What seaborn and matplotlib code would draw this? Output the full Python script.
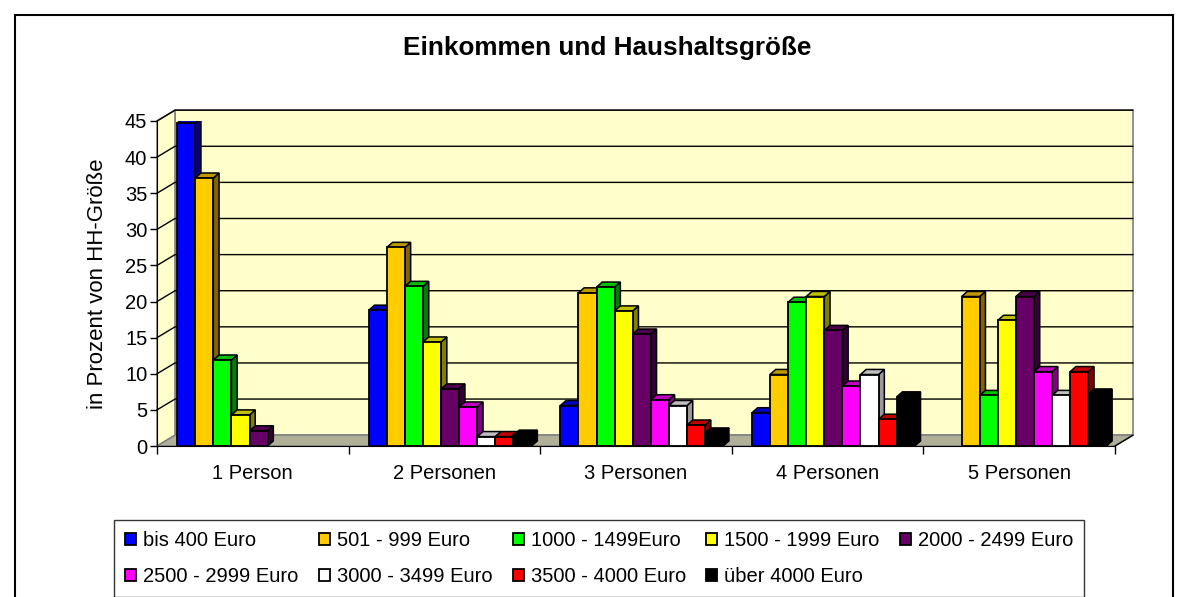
import pandas as pd
import seaborn as sns
import matplotlib.pyplot as plt
from matplotlib.patches import Polygon, Rectangle
from matplotlib.colors import to_rgb

# data
categories = ['1 Person', '2 Personen', '3 Personen', '4 Personen', '5 Personen']
incomes = ['bis 400 Euro', '501 - 999 Euro', '1000 - 1499Euro', '1500 - 1999 Euro',
           '2000 - 2499 Euro', '2500 - 2999 Euro', '3000 - 3499 Euro',
           '3500 - 4000 Euro', 'über 4000 Euro']
bis400 = [44.7, 18.8, 5.6, 4.6, 0.0]
e501_999 = [37.1, 27.5, 21.2, 9.9, 20.7]
e1000_1499 = [11.9, 22.1, 22.0, 19.9, 7.0]
e1500_1999 = [4.3, 14.4, 18.7, 20.7, 17.4]
e2000_2499 = [2.1, 7.9, 15.5, 16.0, 20.7]
e2500_2999 = [0.0, 5.4, 6.4, 8.3, 10.3]
e3000_3499 = [0.0, 1.3, 5.6, 9.9, 7.0]
e3500_4000 = [0.0, 1.3, 2.9, 3.7, 10.3]
ueber4000 = [0.0, 1.5, 1.8, 6.8, 7.2]
colors = ['#0000FF', '#FFCC00', '#00FF00', '#FFFF00', '#660066',
          '#FF00FF', '#FFFFFF', '#FF0000', '#000000']

series = [bis400, e501_999, e1000_1499, e1500_1999, e2000_2499,
          e2500_2999, e3000_3499, e3500_4000, ueber4000]
rows = []
for inc, vals in zip(incomes, series):
    for cat, v in zip(categories, vals):
        rows.append({'HH': cat, 'Einkommen': inc, 'Prozent': v})
df = pd.DataFrame(rows)

sns.set_style('white')
plt.rcParams['font.family'] = ['Liberation Sans', 'DejaVu Sans']
plt.rcParams['text.color'] = 'black'
plt.rcParams['axes.labelcolor'] = 'black'
plt.rcParams['xtick.color'] = 'black'
plt.rcParams['ytick.color'] = 'black'

fig = plt.figure(figsize=(11.88, 5.97), dpi=100)
ax = fig.add_axes([157 / 1188, 151 / 597, 958 / 1188, 325 / 597])
ax.set_facecolor('none')

sns.barplot(data=df, x='HH', y='Prozent', hue='Einkommen', hue_order=incomes,
            palette=colors, saturation=1, width=0.85, edgecolor='black',
            linewidth=1.3, ax=ax, zorder=3)

handles, labels = ax.get_legend_handles_labels()
ax.get_legend().remove()

ax.set_xlim(-0.5, 4.5)
ax.set_ylim(0, 45)

# wall depth and bar depth (3D look)
DX, DY = 0.094, 1.5
bx, by = 0.03, 0.7

# back wall, side wall, floor
ax.add_patch(Polygon([(-0.5 + DX, DY), (4.5 + DX, DY), (4.5 + DX, 45 + DY), (-0.5 + DX, 45 + DY)],
                     closed=True, facecolor='#FFFFCC', edgecolor='#808080', lw=1.2,
                     zorder=0, clip_on=False))
ax.add_patch(Polygon([(-0.5, 0), (-0.5 + DX, DY), (-0.5 + DX, 45 + DY), (-0.5, 45)],
                     closed=True, facecolor='#FFFFCC', edgecolor='#808080', lw=1.2,
                     zorder=0, clip_on=False))
ax.add_patch(Polygon([(-0.5, 0), (4.5, 0), (4.5 + DX, DY), (-0.5 + DX, DY)],
                     closed=True, facecolor='#B0B098', edgecolor='#808080', lw=1,
                     zorder=1, clip_on=False))
for t in range(5, 50, 5):
    ax.plot([-0.5, -0.5 + DX, 4.5 + DX], [t, t + DY, t + DY], color='black', lw=1,
            zorder=1, clip_on=False)

# bars: shift a little, add side and top faces
for cont in ax.containers:
    for bar in cont:
        bar.set_x(bar.get_x() + 0.03)
        h = bar.get_height()
        if h <= 0:
            bar.set_visible(False)
            continue
        x0, w = bar.get_x(), bar.get_width()
        c = to_rgb(bar.get_facecolor())
        side = tuple(v * 0.5 for v in c) if c != (1.0, 1.0, 1.0) else (0.6, 0.6, 0.6)
        top = tuple(v * 0.75 for v in c) if c != (1.0, 1.0, 1.0) else (0.75, 0.75, 0.75)
        ax.add_patch(Polygon([(x0 + w, 0), (x0 + w + bx, by), (x0 + w + bx, h + by), (x0 + w, h)],
                             closed=True, facecolor=side, edgecolor='black', lw=1.1, zorder=2))
        ax.add_patch(Polygon([(x0, h), (x0 + bx, h + by), (x0 + w + bx, h + by), (x0 + w, h)],
                             closed=True, facecolor=top, edgecolor='black', lw=1.1, zorder=2))

for s in ['top', 'right']:
    ax.spines[s].set_visible(False)
ax.spines['left'].set_color('black')
ax.spines['bottom'].set_color('black')
ax.spines['left'].set_zorder(5)
ax.spines['bottom'].set_zorder(5)
ax.plot([4.5, 4.5 + DX], [0, DY], color='black', lw=1, clip_on=False, zorder=5)

ax.set_yticks(range(0, 50, 5))
ax.tick_params(axis='y', direction='out', length=5, width=1, color='black',
               labelsize=14.5, left=True, pad=2)
ax.set_xticks([x - 0.5 for x in range(6)], minor=True)
ax.set_xticks(range(5))
ax.set_xticklabels(categories)
ax.tick_params(axis='x', which='major', length=0, labelsize=14.5, pad=13)
ax.tick_params(axis='x', which='minor', direction='out', length=6, width=1,
               color='black', bottom=True)
ax.set_xlabel('')
ax.set_ylabel('in Prozent von HH-Größe', fontsize=16, labelpad=12)

fig.text(607 / 1188, 1 - 48 / 597, 'Einkommen und Haushaltsgröße', ha='center', va='center',
         fontsize=18.8, fontweight='bold')

# legend filled row by row (matplotlib fills columns first)
order = [0, 5, 1, 6, 2, 7, 3, 8, 4]
leg = fig.legend([handles[i] for i in order], [labels[i] for i in order], loc='upper left',
                 bbox_to_anchor=(114 / 1188, 1 - 520 / 597), ncol=5, fontsize=14.5,
                 frameon=True, fancybox=False, edgecolor='black', handlelength=0.55,
                 handleheight=0.55, handletextpad=0.35, columnspacing=1.0,
                 labelspacing=0.85, borderpad=0.55, borderaxespad=0)
leg.get_frame().set_linewidth(1)

# outer chart border
fig.add_artist(Rectangle((15 / 1188, -0.05), 1158 / 1188, 1 - 15 / 597 + 0.05,
                         transform=fig.transFigure, fill=False, edgecolor='black', lw=1.5))

plt.savefig('out.png', dpi=100)
